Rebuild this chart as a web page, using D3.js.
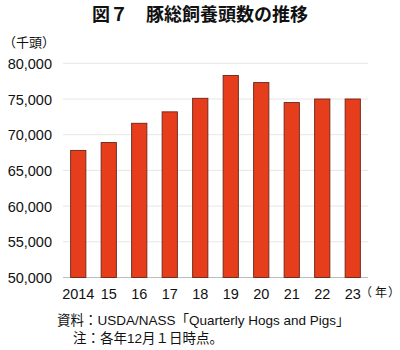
<!DOCTYPE html>
<html><head><meta charset="utf-8">
<script src="https://cdn.jsdelivr.net/npm/d3@7"></script>
<style>body{margin:0;background:#fff}</style>
</head><body>
<svg id="c" width="400" height="350"></svg>
<script>
const years = ["2014","15","16","17","18","19","20","21","22","23"];
const values = [67800, 68900, 71600, 73200, 75100, 78300, 77300, 74500, 75000, 75000];
const yTicks = [50000, 55000, 60000, 65000, 70000, 75000, 80000];

const svg = d3.select("#c");
const latin = "'Liberation Sans', Arial, 'Noto Sans CJK JP', sans-serif";
const cjk = "'Noto Sans CJK JP', sans-serif";
const m = {left: 63, right: 368, top: 63.3, bottom: 277.5};

const x = d3.scaleBand().domain(years).range([m.left, m.right]).paddingInner(0.5).paddingOuter(0.25);
const y = d3.scaleLinear().domain([50000, 80000]).range([m.bottom, m.top]);

// gridlines
svg.append("g").selectAll("line").data(yTicks).join("line")
  .attr("x1", m.left).attr("x2", m.right)
  .attr("y1", d => y(d)).attr("y2", d => y(d))
  .attr("stroke", d => d === 50000 ? "#bdbdbd" : "#e6e6e6").attr("stroke-width", 1);

// y axis labels
const yAxis = d3.axisLeft(y).tickValues(yTicks).tickFormat(d3.format(",")).tickSize(0).tickPadding(0);
const ya = svg.append("g").attr("transform", "translate(52,0)").call(yAxis);
ya.select(".domain").remove();
ya.selectAll("text").attr("font-family", latin).attr("font-size", 14.5).attr("fill", "#111").attr("dy", "0.35em");

// bars
svg.append("g").selectAll("rect").data(values).join("rect")
  .attr("x", (d, i) => x(years[i]))
  .attr("width", x.bandwidth())
  .attr("y", d => y(d))
  .attr("height", d => y(50000) - y(d))
  .attr("fill", "#e63e1d").attr("stroke", "#6b2516").attr("stroke-width", 0.9);

// x axis labels
const xAxis = d3.axisBottom(x).tickSize(0).tickPadding(0);
const xa = svg.append("g").attr("transform", "translate(0,289)").call(xAxis);
xa.select(".domain").remove();
xa.selectAll("text").attr("font-family", latin).attr("font-size", 14.5).attr("fill", "#111").attr("dy", "0.71em");

// title
svg.append("text").attr("x", 200).attr("y", 21).attr("text-anchor", "middle")
  .attr("font-family", cjk).attr("font-weight", "bold").attr("font-size", 18).attr("fill", "#111")
  .text("図７　豚総飼養頭数の推移");

// unit
svg.append("text").attr("x", 3).attr("y", 47).attr("font-family", cjk).attr("font-size", 13).attr("fill", "#111").text("（千頭）");
const yr = svg.append("text").attr("y", 297).attr("font-family", cjk).attr("font-size", 12).attr("fill", "#111");
yr.append("tspan").attr("x", 360).text("（");
yr.append("tspan").attr("x", 375).text("年");
yr.append("tspan").attr("x", 388).text("）");

// source & note
svg.append("text").attr("x", 57).attr("y", 325).attr("font-family", latin).attr("font-size", 13.5).attr("fill", "#111")
  .text("資料：USDA/NASS「Quarterly Hogs and Pigs」");
svg.append("text").attr("x", 73).attr("y", 343).attr("font-family", latin).attr("font-size", 13.5).attr("fill", "#111")
  .text("注：各年12月１日時点。");
</script>
</body></html>
